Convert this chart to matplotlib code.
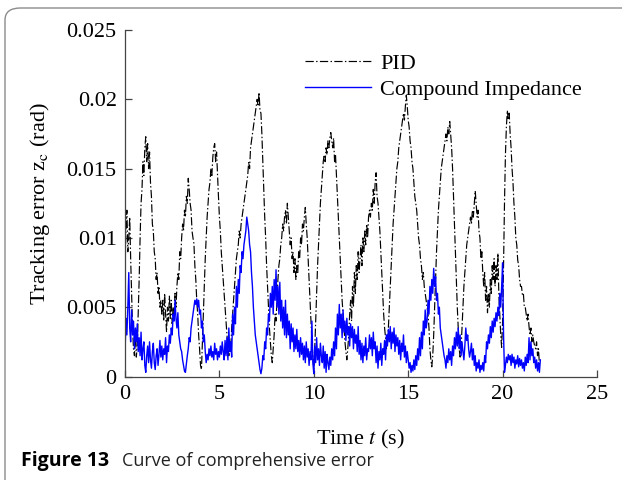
import matplotlib
matplotlib.use("Agg")
import matplotlib.pyplot as plt
from matplotlib.patches import FancyBboxPatch
import numpy as np

# PID tracking error (mrad), one sample every 0.05 s, 0..22 s
pid_mrad = [
    7.5, 10.5, 12.0, 9.0, 10.0, 11.5, 8.5, 6.0, 3.5, 2.0, 1.5, 3.0, 1.4, 2.2, 4.5, 7.0, 10.0, 12.5, 13.5, 15.5,
    14.5, 16.5, 17.3, 15.5, 16.8, 15.0, 16.2, 14.0, 13.0, 11.0, 10.5, 9.0, 8.5, 7.0, 7.5, 6.0, 6.5, 5.0, 5.5, 4.5,
    5.5, 4.0, 6.0, 4.5, 3.2, 5.0, 4.0, 5.8, 4.2, 5.5, 3.8, 5.0, 4.5, 6.0, 5.0, 6.5, 7.5, 7.0, 9.0, 8.5,
    10.0, 11.0, 10.5, 12.0, 11.5, 13.0, 12.5, 14.3, 13.5, 12.5, 12.0, 10.5, 10.0, 9.6, 8.0, 7.0, 5.5, 4.5, 3.0, 2.0,
    0.8, 0.5, 2.5, 4.5, 6.5, 8.5, 10.0, 11.5, 12.5, 13.5, 14.0, 15.0, 14.5, 15.8, 16.5, 16.8, 15.5, 16.2, 14.5, 13.0,
    11.5, 10.5, 9.0, 8.0, 7.0, 6.0, 5.0, 4.0, 3.0, 2.2, 1.5, 2.5, 2.0, 3.5, 4.5, 5.5, 6.5, 7.5, 8.5, 9.0,
    9.5, 10.5, 10.0, 11.0, 11.5, 12.0, 12.5, 13.0, 13.5, 14.0, 14.5, 15.5, 15.0, 16.5, 17.0, 17.5, 18.0, 18.5, 19.0, 19.5,
    20.0, 19.5, 20.5, 19.2, 19.0, 17.5, 15.5, 13.5, 11.5, 10.0, 8.0, 6.5, 5.0, 3.5, 2.5, 1.5, 1.0, 2.0, 3.0, 4.5,
    4.0, 5.5, 7.0, 8.0, 8.5, 9.5, 10.0, 11.0, 10.5, 11.5, 12.0, 11.0, 12.5, 11.5, 10.5, 9.5, 10.0, 8.5, 9.0, 7.5,
    8.5, 7.0, 8.0, 7.5, 9.0, 8.5, 10.0, 9.5, 11.0, 10.5, 11.5, 12.2, 11.0, 10.0, 8.5, 7.0, 5.5, 4.0, 2.5, 1.5,
    0.5, 2.0, 4.0, 6.0, 8.0, 9.5, 11.0, 12.5, 13.5, 14.5, 15.5, 16.0, 15.5, 16.5, 16.0, 17.0, 16.5, 17.2, 17.6, 17.0,
    16.5, 17.2, 15.5, 16.0, 14.5, 13.0, 11.5, 10.0, 8.5, 7.0, 5.5, 4.5, 3.5, 2.5, 1.8, 1.2, 2.0, 3.0, 4.5, 5.5,
    4.0, 6.5, 5.0, 7.5, 6.0, 8.0, 7.0, 9.0, 7.5, 8.5, 9.5, 8.0, 10.0, 9.0, 10.5, 9.5, 11.0, 10.0, 11.5, 12.0,
    11.5, 12.5, 12.0, 13.5, 12.5, 14.0, 14.7, 13.0, 12.5, 11.5, 10.5, 9.0, 7.5, 6.0, 4.5, 3.5, 2.8, 2.0, 2.5, 3.5,
    5.0, 6.5, 8.0, 9.5, 11.0, 12.0, 13.0, 14.0, 15.0, 15.5, 16.5, 17.0, 17.5, 18.0, 18.5, 19.0, 18.5, 19.5, 20.3, 19.5,
    18.5, 18.0, 17.0, 16.5, 15.5, 15.0, 14.0, 13.0, 12.5, 12.0, 11.0, 10.0, 9.5, 8.5, 8.0, 7.0, 7.5, 6.5, 6.0, 5.5,
    5.0, 4.5, 3.5, 2.0, 1.2, 0.7, 1.5, 3.0, 5.0, 7.0, 9.0, 10.5, 12.0, 13.0, 14.0, 15.0, 15.5, 16.0, 16.5, 17.0,
    17.5, 17.0, 18.0, 17.5, 18.4, 17.5, 16.5, 15.0, 13.0, 11.0, 9.0, 7.0, 5.0, 3.5, 2.0, 1.4, 2.0, 3.5, 5.0, 6.5,
    7.5, 8.5, 9.5, 10.0, 10.5, 11.0, 11.5, 11.0, 12.0, 11.5, 12.5, 13.4, 12.5, 11.5, 12.0, 10.5, 10.0, 8.5, 9.0, 7.5,
    6.5, 7.5, 5.5, 6.5, 4.6, 6.0, 5.0, 7.0, 6.0, 8.0, 7.0, 8.5, 6.5, 8.0, 7.0, 8.9, 6.0, 4.5, 3.0, 2.1,
    4.0, 8.0, 12.5, 16.0, 18.0, 19.2, 18.5, 19.0, 17.5, 16.5, 15.0, 14.0, 12.5, 11.5, 10.0, 9.5, 8.4, 8.0, 7.0, 6.5,
    6.5, 5.9, 6.0, 5.0, 5.0, 4.5, 4.0, 4.5, 3.6, 3.0, 3.5, 2.5, 3.0, 2.5, 2.2, 2.0, 2.5, 1.5, 2.0, 0.9,
    1.0,
]

# Compound impedance tracking error (mrad), same sampling
compound_mrad = [
    1.5, 4.2, 3.0, 5.0, 7.5, 3.5, 2.5, 4.8, 3.0, 4.0, 2.0, 3.5, 2.5, 3.8, 1.8, 2.8, 1.5, 3.2, 1.2, 2.0,
    2.5, 0.8, 0.3, 1.5, 2.2, 1.0, 2.5, 1.2, 0.6, 1.8, 2.4, 1.0, 0.5, 1.5, 2.0, 0.8, 1.6, 2.6, 1.4, 2.2,
    1.2, 2.0, 1.6, 2.8, 1.0, 2.2, 1.8, 3.0, 2.4, 3.5, 3.0, 4.5, 4.0, 5.5, 4.2, 3.5, 4.6, 3.0, 2.5, 2.0,
    1.8, 1.2, 0.8, 0.4, 0.3, 0.9, 1.5, 2.0, 2.8, 2.5, 3.5, 4.0, 4.5, 5.0, 5.5, 5.2, 5.6, 5.0, 5.5, 4.5,
    4.8, 3.5, 4.0, 2.5, 3.0, 1.8, 1.0, 1.6, 1.2, 2.0, 1.5, 2.2, 1.4, 1.8, 1.2, 2.4, 1.6, 2.0, 1.2, 1.8,
    1.4, 2.2, 1.6, 2.5, 1.8, 1.2, 2.6, 1.5, 2.8, 1.2, 3.5, 1.8, 2.5, 1.4, 4.5, 3.0, 5.0, 3.8, 6.5, 5.0,
    7.0, 6.0, 8.0, 7.5, 9.0, 8.5, 9.5, 10.0, 10.5, 11.5, 11.0, 10.5, 9.5, 9.0, 7.5, 6.5, 5.0, 4.0, 3.0, 2.5,
    2.0, 1.5, 1.0, 0.5, 0.2, 0.6, 1.5, 1.2, 2.5, 2.0, 3.5, 3.0, 4.5, 4.0, 6.0, 5.0, 6.5, 4.5, 7.0, 5.5,
    7.7, 5.0, 6.5, 4.5, 6.8, 4.0, 5.5, 3.5, 5.0, 3.0, 5.5, 2.8, 4.5, 3.0, 4.0, 2.0, 3.8, 2.5, 3.5, 1.8,
    3.0, 2.0, 3.4, 1.8, 2.6, 1.4, 2.8, 1.6, 2.4, 1.2, 2.2, 1.0, 2.5, 1.4, 2.0, 0.8, 1.8, 1.2, 4.0, 1.0,
    0.2, 2.2, 1.0, 2.8, 1.2, 2.0, 0.8, 2.4, 1.5, 1.0, 2.2, 0.6, 1.8, 0.3, 1.6, 1.0, 0.5, 1.4, 0.8, 2.0,
    1.2, 2.5, 1.5, 3.5, 2.0, 4.5, 3.0, 5.2, 3.5, 4.5, 2.8, 4.8, 3.2, 4.0, 2.6, 4.2, 3.0, 3.6, 2.2, 3.8,
    2.8, 3.6, 2.0, 3.4, 2.4, 3.0, 1.8, 3.6, 1.6, 2.6, 1.2, 2.4, 1.0, 2.2, 1.5, 2.8, 1.2, 2.0, 1.8, 3.0,
    2.0, 2.8, 1.5, 3.2, 2.0, 2.5, 1.0, 2.2, 0.6, 1.8, 1.2, 2.4, 0.8, 2.0, 1.6, 2.6, 1.2, 3.0, 2.2, 3.4,
    2.5, 3.6, 2.0, 3.2, 2.4, 3.5, 1.8, 3.0, 2.2, 2.8, 1.6, 2.6, 1.2, 2.4, 1.8, 3.0, 1.4, 2.2, 1.0, 1.8,
    1.2, 0.6, 1.0, 0.3, 0.8, 0.4, 1.2, 0.5, 1.5, 0.8, 2.0, 1.2, 2.8, 1.5, 3.2, 2.0, 4.0, 3.0, 4.8, 3.5,
    4.0, 5.5, 4.5, 6.5, 5.5, 7.0, 6.0, 7.8, 6.5, 7.2, 5.5, 6.0, 4.5, 5.0, 3.5, 3.0, 2.5, 2.0, 1.5, 1.2,
    0.6, 1.5, 1.0, 2.0, 1.2, 1.8, 0.8, 2.2, 1.5, 2.8, 2.0, 3.2, 2.2, 3.5, 2.0, 3.0, 1.5, 2.5, 1.8, 1.2,
    2.2, 3.5, 2.6, 3.0, 2.0, 1.4, 1.8, 2.4, 1.2, 2.0, 0.8, 1.5, 0.4, 1.0, 0.6, 1.2, 0.3, 0.8, 0.5, 1.0,
    0.4, 1.5, 1.0, 2.5, 2.0, 3.0, 2.4, 3.6, 2.8, 4.0, 3.2, 4.2, 3.6, 4.6, 4.0, 5.0, 4.4, 6.0, 5.0, 6.5,
    8.2, 3.0, 0.3, 0.8, 1.4, 1.0, 1.6, 1.2, 1.5, 0.8, 1.6, 1.0, 1.4, 0.6, 1.2, 0.9, 1.5, 0.7, 1.3, 0.8,
    1.2, 0.6, 1.0, 0.4, 1.4, 0.8, 1.6, 1.0, 2.8, 1.2, 2.5, 1.5, 2.0, 1.0, 1.4, 0.6, 1.2, 0.4, 1.0, 0.3,
    1.2,
]

sample_step_s = 0.05
x_ticks = [0, 5, 10, 15, 20, 25]
x_tick_labels = ["0", "5", "10", "15", "20", "25"]
y_ticks = [0, 0.005, 0.01, 0.015, 0.02, 0.025]
y_tick_labels = ["0", "0.005", "0.01", "0.015", "0.02", "0.025"]

plt.rcParams["font.family"] = ["Liberation Serif", "DejaVu Serif"]
plt.rcParams["mathtext.fontset"] = "stix"

W, H = 622, 480
fig = plt.figure(figsize=(W / 100, H / 100), dpi=100)
ax = fig.add_axes([125 / W, 1 - 376.5 / H, 472 / W, 346.5 / H])

t_pid = np.arange(len(pid_mrad)) * sample_step_s
t_comp = np.arange(len(compound_mrad)) * sample_step_s
pid = np.array(pid_mrad) / 1000.0
comp = np.array(compound_mrad) / 1000.0

ax.plot(t_pid, pid, color="black", lw=0.85, ls=(0, (7, 2, 1.2, 2)), label="PID")
ax.plot(t_comp, comp, color="#0000ff", lw=1.0, label="Compound Impedance")

ax.set_xlim(0, 25)
ax.set_ylim(0, 0.025)
ax.set_xticks(x_ticks)
ax.set_xticklabels(x_tick_labels)
ax.set_yticks(y_ticks)
ax.set_yticklabels(y_tick_labels)
for s in ["top", "right"]:
    ax.spines[s].set_visible(False)
for s in ["left", "bottom"]:
    ax.spines[s].set_color("#444444")
    ax.spines[s].set_linewidth(0.9)
ax.tick_params(direction="in", length=5, width=0.9, color="#444444",
               labelsize=16, pad=6)

ax.set_xlabel("Time $t$ (s)", fontsize=16)
ax.xaxis.set_label_coords(0.499, -0.149)
ax.set_ylabel("Tracking error z$_\\mathrm{c}$ (rad)", fontsize=16)
ax.yaxis.set_label_coords(-0.155, 0.5)

leg = ax.legend(loc="upper left", bbox_to_anchor=(0.348, 0.978), frameon=False,
                fontsize=16, handlelength=3.0, handletextpad=0.4,
                labelspacing=0.25, borderpad=0.2)

# rounded frame around the figure (cut by the image edges)
frame = FancyBboxPatch((5 / W, -0.2), 1.2, 0.2 + 1 - 8 / H,
                       boxstyle="round,pad=0,rounding_size=0.025",
                       transform=fig.transFigure, fill=False,
                       edgecolor="#8c8c8c", lw=1.0, clip_on=False)
fig.patches.append(frame)

fig.text(21 / W, 1 - 461 / H, "Figure 13", fontsize=14, fontweight="bold",
         family=["Open Sans", "DejaVu Sans"], va="center", ha="left")
fig.text(122 / W, 1 - 461 / H, "Curve of comprehensive error", fontsize=13,
         family=["Open Sans", "DejaVu Sans"], va="center", ha="left",
         color="#222222")

fig.savefig("out.png", dpi=100)
